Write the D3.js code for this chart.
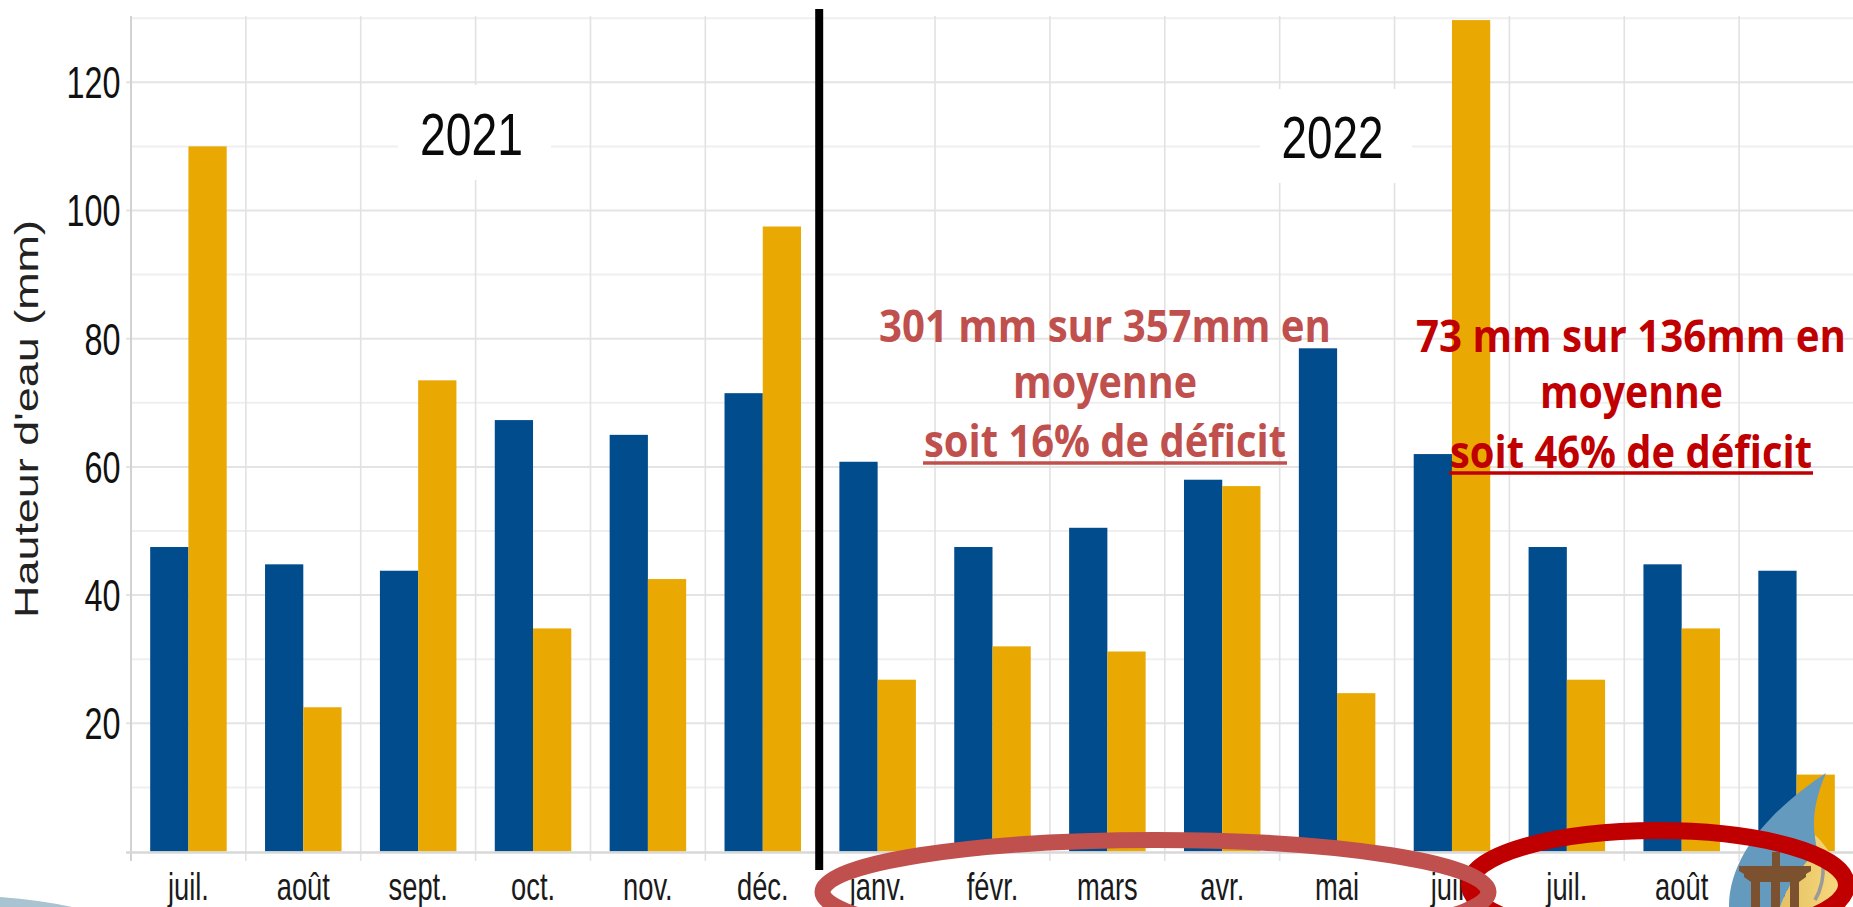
<!DOCTYPE html>
<html><head><meta charset="utf-8">
<script src="https://cdn.jsdelivr.net/npm/d3@7"></script>
<style>html,body{margin:0;padding:0;background:#fff;overflow:hidden}svg{display:block}</style>
</head><body><svg id="c" width="1853" height="907"></svg>
<script>
const months = ["juil.","août","sept.","oct.","nov.","déc.","janv.","févr.","mars","avr.","mai","juin","juil.","août","sept."];
const pluie = [47.5,44.8,43.8,67.3,65,71.5,60.8,47.5,50.5,58,78.5,62,47.5,44.8,43.8];
const normale = [110,22.5,73.5,34.8,42.5,97.5,26.8,32,31.2,57,24.7,129.7,26.8,34.8,12];
const seriesColors = ["#014c8c","#e9a802"];
const yTicks = [20,40,60,80,100,120];
const yMinor = [10,30,50,70,90,110,130];
const yearLabels = [{t:"2021",i:2.964,w:103,b:155,box:[398,85,153,95]},{t:"2022",i:10.46,w:102,b:158,box:[1260,89,152,94]}];
const notes = [
 {color:"#c0504d",lines:[["301 mm sur 357mm en",879,1331,342],["moyenne",1013,1197,398],["soit 16% de déficit",924,1286,457]],ul:[923,1287,463]},
 {color:"#c00000",lines:[["73 mm sur 136mm en",1416,1846,352],["moyenne",1540,1723,408],["soit 46% de déficit",1450,1812,468]],ul:[1449,1813,473]}
];

const svg = d3.select("#c");
const L=131,R=1854,T=16,B=851.5;
const idx = d3.range(months.length);
const x = d3.scaleBand().domain(idx).range([L,R]).paddingInner(0.334).paddingOuter(0.167);
const xs = d3.scaleBand().domain([0,1]).range([0,x.bandwidth()]);
const xg = d3.scaleLinear().domain([0,months.length]).range([L,R]);
const y = d3.scaleLinear().domain([0,130.34]).range([B,T]);
const FONT = "'Liberation Sans',Arial,sans-serif";

// swoosh bottom-left
svg.append("path").attr("d","M0,897 Q40,900 72,907 L0,907Z").attr("fill","#a9c3d1");

// grid
svg.append("g").selectAll("line").data(yMinor).join("line")
 .attr("x1",L).attr("x2",R).attr("y1",d=>y(d)).attr("y2",d=>y(d)).attr("stroke","#efefef").attr("stroke-width",2);
svg.append("g").selectAll("line").data(yTicks).join("line")
 .attr("x1",L-5).attr("x2",R).attr("y1",d=>y(d)).attr("y2",d=>y(d)).attr("stroke","#e4e4e4").attr("stroke-width",2);
svg.append("g").selectAll("line").data(d3.range(1,months.length+1)).join("line")
 .attr("x1",d=>xg(d)).attr("x2",d=>xg(d)).attr("y1",T).attr("y2",861).attr("stroke","#e2e2e2").attr("stroke-width",1.6);
svg.append("line").attr("x1",L).attr("x2",L).attr("y1",T).attr("y2",861).attr("stroke","#d2d2d2").attr("stroke-width",2);

// white boxes behind year labels
svg.append("g").selectAll("rect").data(yearLabels).join("rect")
 .attr("x",d=>d.box[0]).attr("y",d=>d.box[1]).attr("width",d=>d.box[2]).attr("height",d=>d.box[3]).attr("fill","#fff");

// bars
[pluie,normale].forEach((vals,s)=>{
 svg.append("g").selectAll("rect").data(vals).join("rect")
  .attr("x",(d,i)=>x(i)+xs(s)).attr("width",xs.bandwidth())
  .attr("y",d=>y(d)).attr("height",d=>B-y(d)).attr("fill",seriesColors[s]);
});
// baseline
svg.append("line").attr("x1",L-5).attr("x2",R).attr("y1",B+1).attr("y2",B+1).attr("stroke","#d8d8d8").attr("stroke-width",2.5);

// axes via d3
const ay = svg.append("g").attr("transform",`translate(${L},0)`)
 .call(d3.axisLeft(y).tickValues(yTicks).tickSize(0));
ay.select(".domain").remove();
ay.selectAll("text").attr("x",0).attr("dy",null).attr("y",15.5)
 .attr("text-anchor","end").attr("transform","translate(-10.5,0) scale(0.72,1)")
 .attr("font-family",FONT).attr("font-size",45).attr("fill","#111");

const ax = svg.append("g").attr("transform",`translate(0,${B})`)
 .call(d3.axisBottom(x).tickFormat(i=>months[i]).tickSize(0));
ax.select(".domain").remove();
ax.selectAll("text").attr("y",0).attr("dy",null)
 .attr("text-anchor","middle").attr("transform","translate(0,48.5) scale(0.71,1)")
 .attr("font-family",FONT).attr("font-size",38.5).attr("fill","#1a1a1a");

// y title
svg.append("text").attr("transform","translate(38,618) rotate(-90)")
 .attr("font-family",FONT).attr("font-size",33).attr("fill","#222")
 .attr("textLength",398).attr("lengthAdjust","spacingAndGlyphs").text("Hauteur d'eau (mm)");

// year labels
svg.append("g").selectAll("text").data(yearLabels).join("text")
 .attr("x",d=>xg(d.i)-d.w/2).attr("y",d=>d.b)
 .attr("font-family",FONT).attr("font-size",60).attr("fill","#0a0a0a")
 .attr("textLength",d=>d.w).attr("lengthAdjust","spacingAndGlyphs").text(d=>d.t);

// separator
svg.append("line").attr("x1",xg(6)-1).attr("x2",xg(6)-1).attr("y1",9).attr("y2",870).attr("stroke","#000").attr("stroke-width",8);

// annotations
notes.forEach(n=>{
 const g=svg.append("g").attr("fill",n.color);
 n.lines.forEach(l=>{
  g.append("text").attr("x",l[1]).attr("y",l[3]).attr("font-family","'Open Sans',sans-serif")
   .attr("font-weight",700).attr("font-size",44)
   .attr("textLength",l[2]-l[1]).attr("lengthAdjust","spacingAndGlyphs").text(l[0]);
 });
 g.append("line").attr("x1",n.ul[0]).attr("x2",n.ul[1]).attr("y1",n.ul[2]).attr("y2",n.ul[2]).attr("stroke",n.color).attr("stroke-width",3.5);
});

// logo
const defs=svg.append("defs");
const gr=defs.append("linearGradient").attr("id","gy").attr("x1",0).attr("x2",1).attr("y1",0).attr("y2",0);
gr.append("stop").attr("offset",0).attr("stop-color","#e3c063");
gr.append("stop").attr("offset",1).attr("stop-color","#fbdb80");
const logo=svg.append("g");
logo.append("path").attr("d","M1815,835 C1832,850 1846,880 1846,907 L1780,907 C1788,885 1800,865 1815,850Z").attr("fill","url(#gy)");
logo.append("path").attr("d","M1823,863 C1824,878 1821,890 1815,900").attr("fill","none").attr("stroke","#9a9a9a").attr("stroke-width",3.5);
logo.append("path").attr("d","M1826,773 C1790,797 1729,845 1729,907 L1780,907 C1788,885 1800,868 1817,850 C1815,835 1808,815 1826,773Z").attr("fill","#659abf");
logo.append("path").attr("d","M1772,852 h8 v14 h31 v5 l-5,3 v3 l-7,5 v25 h-9 v-25 h-10 v25 h-9 v-25 h-11 v25 h-9 v-25 l-7,-5 v-3 l-5,-3 v-5 h33Z").attr("fill","#7c5130");

// ellipses
svg.append("ellipse").attr("cx",1658).attr("cy",885).attr("rx",188.5).attr("ry",54.5)
 .attr("fill","none").attr("stroke","#c00000").attr("stroke-width",17);
svg.append("ellipse").attr("cx",1155.5).attr("cy",892).attr("rx",333).attr("ry",52)
 .attr("fill","none").attr("stroke","#c0504d").attr("stroke-width",16);
</script></body></html>
